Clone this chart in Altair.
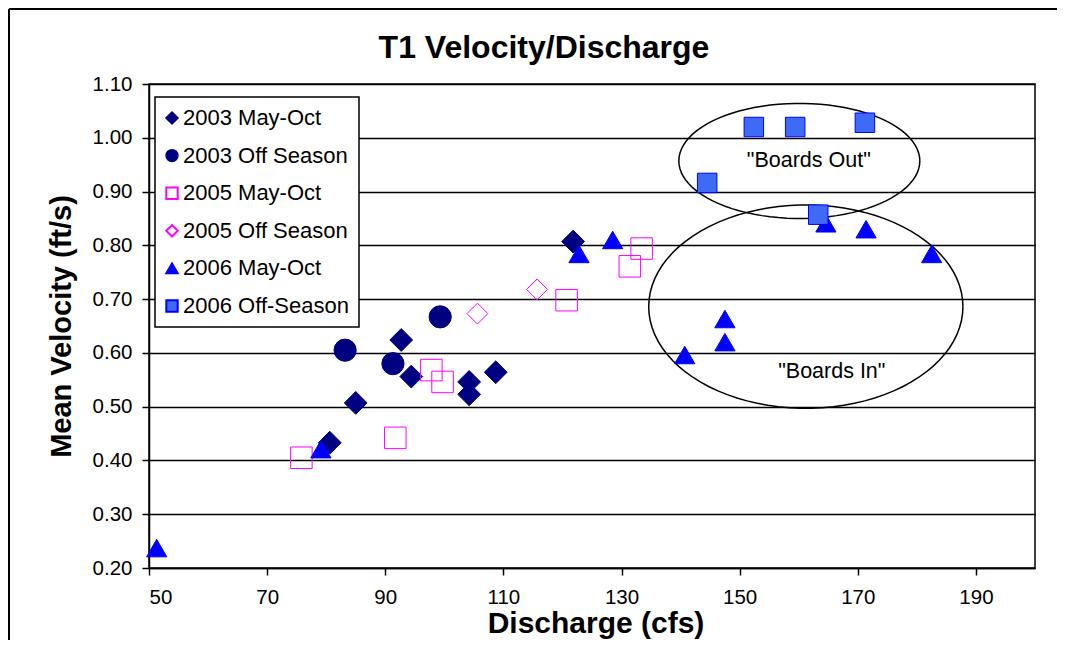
import altair as alt
import pandas as pd
import numpy as np

# ---- data ----
series_names = ["2003 May-Oct", "2003 Off Season", "2005 May-Oct",
                "2005 Off Season", "2006 May-Oct", "2006 Off-Season"]

s03_x = [80.6, 85.0, 92.7, 94.4, 104.2, 104.2, 108.7, 121.8]
s03_y = [0.433, 0.507, 0.624, 0.556, 0.546, 0.523, 0.564, 0.807]
o03_x = [83.2, 91.3, 99.3]
o03_y = [0.605, 0.580, 0.667]
s05_x = [75.8, 91.7, 97.8, 99.7, 120.7, 131.4, 133.4]
s05_y = [0.405, 0.442, 0.568, 0.546, 0.698, 0.761, 0.794]
o05_x = [105.6, 115.7]
o05_y = [0.673, 0.718]
s06_x = [51.3, 79.1, 122.8, 128.5, 164.6, 171.4, 182.5, 147.5, 147.5, 140.7]
s06_y = [0.237, 0.421, 0.784, 0.810, 0.841, 0.830, 0.784, 0.663, 0.620, 0.596]
o06_x = [152.4, 159.4, 171.2, 144.5, 163.3]
o06_y = [1.020, 1.020, 1.028, 0.916, 0.857]

x_ticks = [50, 70, 90, 110, 130, 150, 170, 190]
y_ticks = [0.2, 0.3, 0.4, 0.5, 0.6, 0.7, 0.8, 0.9, 1.0, 1.1]

# annotation ellipses (center x, center y, radius x, radius y) and labels
ellipse_names = ["out", "in"]
ellipse_cx = [160.1, 161.2]
ellipse_cy = [0.957, 0.686]
ellipse_rx = [20.4, 26.6]
ellipse_ry = [0.107, 0.189]
label_text = ['"Boards Out"', '"Boards In"']
label_x = [161.7, 165.6]
label_y = [0.956, 0.565]

chart_title = "T1 Velocity/Discharge"
x_title = "Discharge (cfs)"
y_title = "Mean Velocity (ft/s)"

# ---- styles ----
shape_range = ["diamond", "circle", "square", "diamond", "triangle-up", "square"]
fill_range = ["#000080", "#000080", "transparent", "transparent", "#0000FF", "#3D6BF5"]
stroke_range = ["#000080", "#000080", "#FF00FF", "#FF00FF", "#0000FF", "#0000FF"]
size_range = [520, 380, 320, 440, 520, 220]
sw_range = [1, 1, 2, 2, 1, 1.5]

FONT = "Liberation Sans"

# ---- tables ----
xs = [s03_x, o03_x, s05_x, o05_x, s06_x, o06_x]
ys = [s03_y, o03_y, s05_y, o05_y, s06_y, o06_y]
size_keys = ["k%d" % i for i in range(len(series_names))]
rows = []
for name, key, sx, sy in zip(series_names, size_keys, xs, ys):
    for a, b in zip(sx, sy):
        rows.append({"series": name, "key": key, "x": a, "y": b})
points_df = pd.DataFrame(rows)

t = np.linspace(0, 2 * np.pi, 91)
erows = []
for n, cx, cy, rx, ry in zip(ellipse_names, ellipse_cx, ellipse_cy, ellipse_rx, ellipse_ry):
    for i, a in enumerate(t):
        erows.append({"grp": n, "i": i, "x": cx + rx * np.cos(a), "y": cy + ry * np.sin(a)})
ell_df = pd.DataFrame(erows)
lab_df = pd.DataFrame({"x": label_x, "y": label_y, "text": label_text})

W, H = 886, 484
PAD = {"left": 141, "top": 76, "right": 22, "bottom": 72}

xscale = alt.Scale(domain=[50, 200], nice=False, zero=False)
yscale = alt.Scale(domain=[0.2, 1.1], nice=False, zero=False)

x_axis = alt.Axis(values=x_ticks, format="d", title=None, grid=False,
                  tickSize=7, labelPadding=12, labelFontSize=20.5)
y_axis = alt.Axis(values=y_ticks, format=".2f", title=y_title, grid=True,
                  tickSize=7, labelPadding=10, titlePadding=16,
                  labelFontSize=20.5, titleFontSize=29, titleFontWeight="bold")

x_enc = alt.X("x:Q", scale=xscale, axis=x_axis)
y_enc = alt.Y("y:Q", scale=yscale, axis=y_axis)

leg = alt.Legend(title=None)

points = alt.Chart(points_df).mark_point(opacity=1, filled=False).encode(
    x=x_enc,
    y=y_enc,
    shape=alt.Shape("series:N", scale=alt.Scale(domain=series_names, range=shape_range), legend=leg),
    fill=alt.Fill("series:N", scale=alt.Scale(domain=series_names, range=fill_range), legend=leg),
    stroke=alt.Stroke("series:N", scale=alt.Scale(domain=series_names, range=stroke_range), legend=leg),
    size=alt.Size("key:N", scale=alt.Scale(domain=size_keys, range=size_range), legend=None),
    strokeWidth=alt.StrokeWidth("key:N", scale=alt.Scale(domain=size_keys, range=sw_range), legend=None),
    order=alt.Order("series:N"),
)

ellipses = alt.Chart(ell_df).mark_line(color="black", strokeWidth=1.5).encode(
    x=x_enc, y=y_enc, detail="grp:N", order="i:Q",
)

labels = alt.Chart(lab_df).mark_text(font=FONT, fontSize=21.5, color="black").encode(
    x=x_enc, y=y_enc, text="text:N",
)

one = pd.DataFrame({"k": [0]})
title = alt.Chart(one).mark_text(font=FONT, fontSize=32, fontWeight="bold", color="black",
                                 baseline="middle", align="center").encode(
    x=alt.value(395), y=alt.value(-36), text=alt.value(chart_title))

xtitle = alt.Chart(one).mark_text(font=FONT, fontSize=30, fontWeight="bold", color="black",
                                  baseline="alphabetic", align="center").encode(
    x=alt.value(447), y=alt.value(H + 65), text=alt.value(x_title))

frame_top = alt.Chart(one).mark_rule(color="black", strokeWidth=2).encode(
    x=alt.value(-140), x2=alt.value(W + 40), y=alt.value(-75))
frame_left = alt.Chart(one).mark_rule(color="black", strokeWidth=2).encode(
    x=alt.value(-140), y=alt.value(-75), y2=alt.value(H + 80))

chart = alt.layer(frame_top, frame_left, ellipses, labels, points, title, xtitle).properties(
    width=W, height=H, padding=PAD, autosize=alt.AutoSizeParams(type="none"),
    background="white",
).configure_view(
    stroke="black", strokeWidth=1.5
).configure_axis(
    labelFont=FONT, titleFont=FONT, labelColor="black", titleColor="black",
    domainColor="black", tickColor="black", gridColor="black",
    gridWidth=1.5, domainWidth=1.5, tickWidth=1.5, gridOpacity=1,
).configure_legend(
    orient="none", legendX=6, legendY=13,
    labelFontSize=22, labelFont=FONT, labelColor="black",
    symbolSize=130, symbolStrokeWidth=2, symbolOffset=-4,
    strokeColor="black", fillColor="white", strokeWidth=1.5,
    padding=10, rowPadding=15.6, labelOffset=0, labelLimit=400,
)

chart.save("out.html", embed_options={"renderer": "svg", "actions": False})
